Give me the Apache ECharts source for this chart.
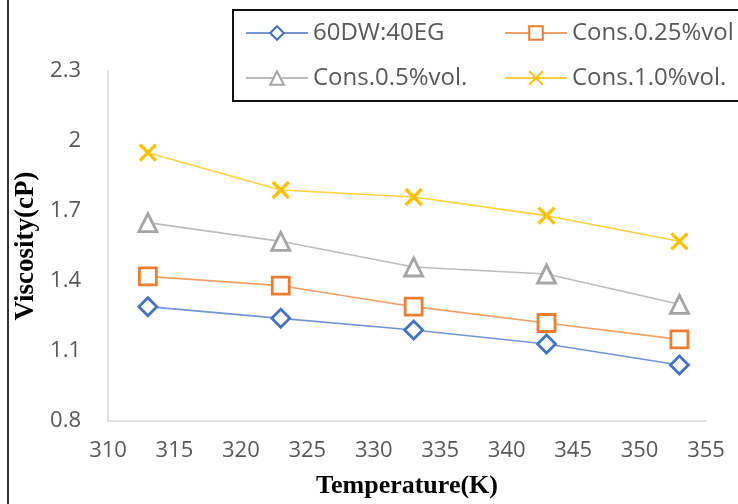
<!DOCTYPE html>
<html>
<head>
<meta charset="utf-8">
<script src="https://cdn.jsdelivr.net/npm/echarts@6/dist/echarts.min.js"></script>
<style>
  html, body { margin: 0; padding: 0; background: #fff; }
  #chart { width: 738px; height: 504px; }
</style>
</head>
<body>
<div id="chart"></div>
<script>
// Temperature (K) at which viscosity was measured
const temperatures = [313, 323, 333, 343, 353];

// Viscosity (cP) per fluid
const baseFluid = [1.29, 1.24, 1.19, 1.13, 1.04];
const cons025 = [1.42, 1.38, 1.29, 1.22, 1.15];
const cons05 = [1.65, 1.57, 1.46, 1.43, 1.30];
const cons10 = [1.95, 1.79, 1.76, 1.68, 1.57];

const seriesNames = ['60DW:40EG', 'Cons.0.25%vol', 'Cons.0.5%vol.', 'Cons.1.0%vol.'];

const labelFont = '"Open Sans", "Liberation Sans", sans-serif';
const titleFont = '"Liberation Serif", "DejaVu Serif", serif';

const pairs = vals => temperatures.map((t, i) => [t, vals[i]]);

function lineSeries(name, vals, color, symbol, size) {
  return {
    name: name,
    type: 'line',
    data: pairs(vals),
    symbol: symbol,
    symbolSize: size,
    showAllSymbol: true,
    lineStyle: { color: color, width: 1.6, opacity: 0.75 },
    itemStyle: { color: '#fff', borderColor: color, borderWidth: 2.8 },
    z: 3
  };
}

const chart = echarts.init(document.getElementById('chart'), null, { renderer: 'canvas' });

chart.setOption({
  animation: false,
  backgroundColor: '#fff',
  grid: { left: 108, right: 32, top: 71, bottom: 82, containLabel: false },
  xAxis: {
    type: 'value',
    min: 310, max: 355, interval: 5,
    name: 'Temperature(K)',
    nameLocation: 'middle',
    nameGap: 52,
    nameTextStyle: { fontFamily: titleFont, fontWeight: 'bold', fontSize: 26, color: '#000' },
    axisLine: { show: true, lineStyle: { color: '#d9d9d9', width: 1.5 } },
    axisTick: { show: false },
    splitLine: { show: false },
    axisLabel: { color: '#595959', fontFamily: labelFont, fontSize: 22, margin: 19 }
  },
  yAxis: {
    type: 'value',
    min: 0.8, max: 2.3, interval: 0.3,
    name: 'Viscosity(cP)',
    nameLocation: 'middle',
    nameGap: 60,
    nameRotate: 90,
    nameTextStyle: { fontFamily: titleFont, fontWeight: 'bold', fontSize: 27, color: '#000' },
    axisLine: { show: true, lineStyle: { color: '#d9d9d9', width: 1.5 } },
    axisTick: { show: false },
    splitLine: { show: false },
    axisLabel: {
      color: '#595959', fontFamily: labelFont, fontSize: 22, margin: 27,
      formatter: v => String(+v.toFixed(1))
    }
  },
  legend: {
    left: 245, top: 16, width: 520,
    padding: 0,
    itemWidth: 62, itemHeight: 17, itemGap: 11,
    data: seriesNames,
    textStyle: { color: '#595959', fontFamily: labelFont, fontSize: 24, width: 180, lineHeight: 34 }
  },
  graphic: [
    {
      type: 'rect',
      shape: { x: 233, y: 10, width: 520, height: 91 },
      style: { fill: 'none', stroke: '#111', lineWidth: 2 },
      silent: true
    },
    {
      type: 'line',
      shape: { x1: 8, y1: 0, x2: 8, y2: 504 },
      style: { stroke: '#333', lineWidth: 2 },
      silent: true
    }
  ],
  series: [
    lineSeries(seriesNames[0], baseFluid, '#4472C4', 'diamond', 18),
    lineSeries(seriesNames[1], cons025, '#ED7D31', 'rect', 17),
    lineSeries(seriesNames[2], cons05, '#A5A5A5', 'triangle', 18),
    Object.assign(lineSeries(seriesNames[3], cons10, '#FFC000', 'path://M0,0L10,10M10,0L0,10', 16), {
      itemStyle: { color: '#FFC000', borderColor: '#FFC000', borderWidth: 3.4 }
    })
  ]
});
</script>
</body>
</html>
